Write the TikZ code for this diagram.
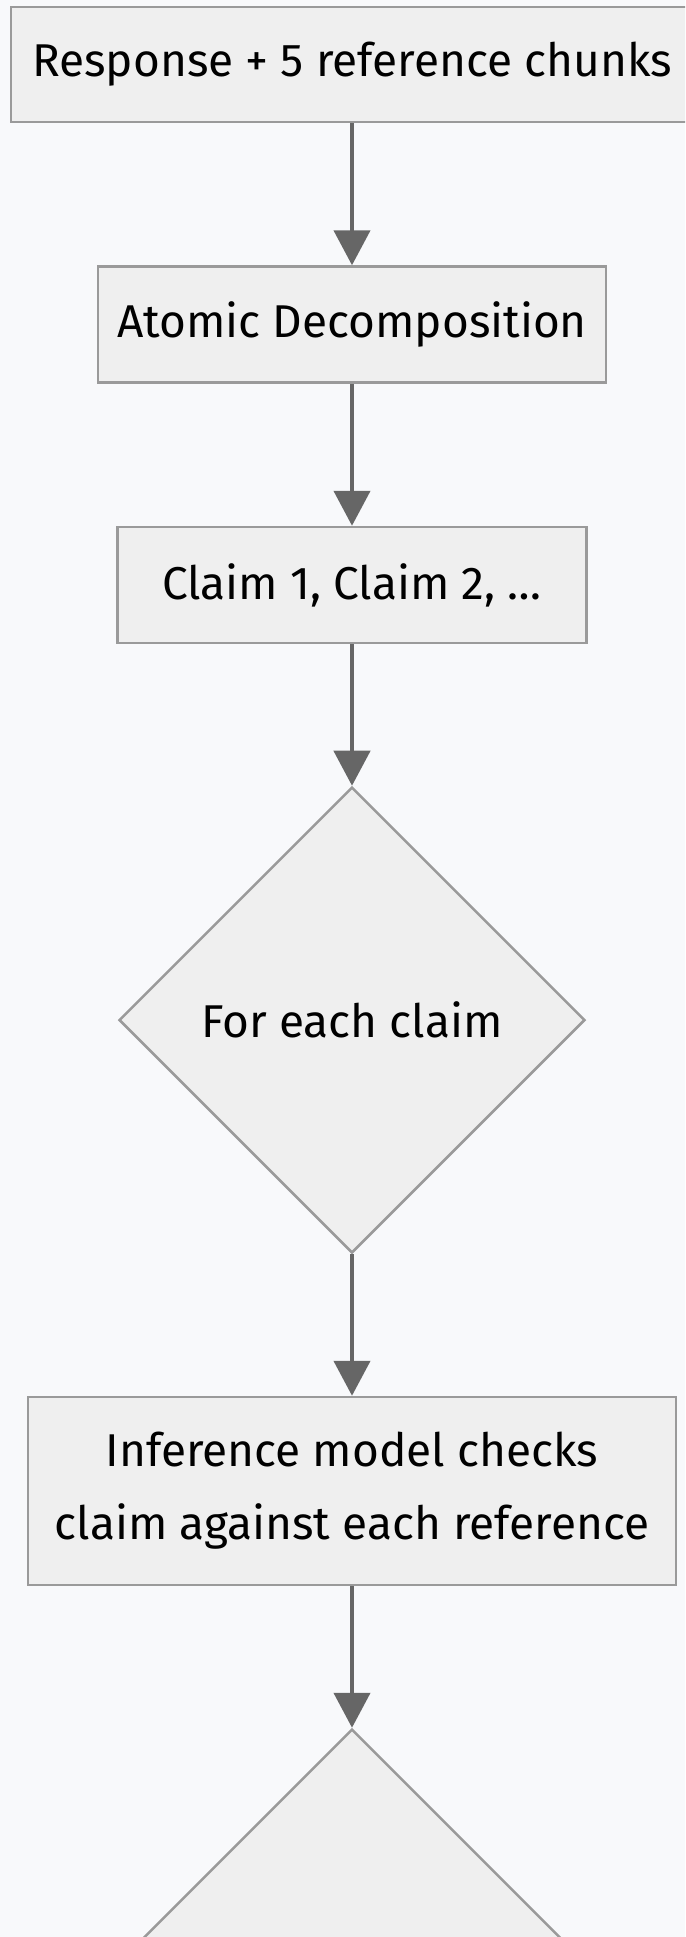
\documentclass[tikz,border=0pt]{standalone}
\usepackage{fontspec}
\setmainfont{Fira Sans}
\usetikzlibrary{shapes.geometric,arrows.meta}
\definecolor{bgc}{HTML}{F8F9FB}
\definecolor{boxfill}{HTML}{EFEFEF}
\definecolor{boxline}{HTML}{9A9A9A}
\definecolor{arrowc}{HTML}{666666}
\tikzset{
  stepbox/.style={draw=boxline, fill=boxfill, line width=2.5pt, inner sep=0pt,
    font=\fontsize{46}{73}\selectfont, align=center, text=black},
  decision/.style={diamond, aspect=1, draw=boxline, fill=boxfill, line width=2.5pt,
    inner sep=0pt, minimum width=466pt, minimum height=466pt,
    font=\fontsize{46}{73}\selectfont, align=center, text=black},
  flow/.style={draw=arrowc, line width=4.5pt, -{Triangle[length=35pt,width=36pt]}}
}
\begin{document}
\begin{tikzpicture}[x=1pt,y=-1pt]
\useasboundingbox (0,0) rectangle (685,1937);
\fill[bgc] (0,0) rectangle (685,1937);
\clip (0,0) rectangle (685,1937);
\node[stepbox, minimum width=682pt, minimum height=115pt] (input) at (352,64.5) {Response + 5 reference chunks};
\node[stepbox, minimum width=508pt, minimum height=116pt] (atomic) at (352,324.5) {Atomic Decomposition};
\node[stepbox, minimum width=469pt, minimum height=116pt] (claims) at (352,585) {Claim 1, Claim 2, \dots};
\node[decision] (foreach) at (352,1020) {For each claim};
\node[stepbox, minimum width=648pt, minimum height=188pt] (infer) at (352,1491) {Inference model checks\\claim against each reference};
\node[decision] (next) at (352,1962) {};
\draw[flow] (input) -- (atomic);
\draw[flow] (atomic) -- (claims);
\draw[flow] (claims) -- (foreach);
\draw[flow] (foreach) -- (infer);
\draw[flow] (infer) -- (next);
\end{tikzpicture}
\end{document}
